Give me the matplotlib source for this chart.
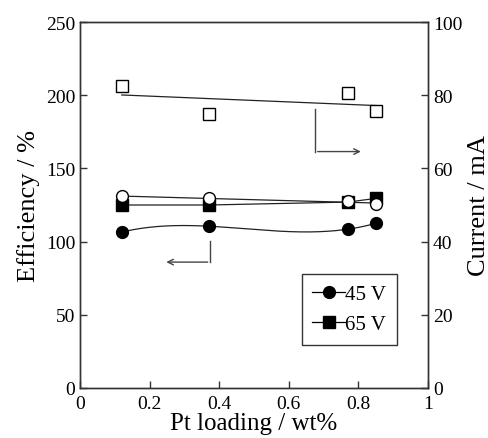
import numpy as np
import matplotlib
matplotlib.use('Agg')
import matplotlib.pyplot as plt

plt.rcParams['font.family'] = ['Liberation Serif', 'DejaVu Serif']
plt.rcParams['mathtext.fontset'] = 'stix'

# Data
pt_loading = [0.12, 0.37, 0.77, 0.85]
eff_45 = [106.5, 110.5, 108.5, 112.5]       # filled circles, left axis
eff_65 = [125.0, 125.0, 127.0, 129.5]       # filled squares, left axis
cur_45 = [52.4, 51.8, 51.0, 50.3]           # open circles, right axis
cur_65 = [82.4, 75.0, 80.6, 75.8]           # open squares, right axis

fig = plt.figure(figsize=(4.89, 4.39), dpi=100)
ax = fig.add_axes([80 / 489, 50 / 439, 348 / 489, 366 / 439])
ax2 = ax.twinx()

ms = 8.5
lc = '#222222'

# efficiency (left)
xs = np.linspace(min(pt_loading), max(pt_loading), 200)
c45 = np.polyfit(pt_loading, eff_45, 3)
ax.plot(xs, np.polyval(c45, xs), color=lc, lw=0.9)
ax.plot(pt_loading, eff_45, 'o', color='black', ms=ms)
ax.plot(pt_loading, eff_65, '-', color=lc, lw=0.9)
ax.plot(pt_loading, eff_65, 's', color='black', ms=ms)

# current (right)
f45 = np.polyfit(pt_loading, cur_45, 1)
f65 = np.polyfit(pt_loading, cur_65, 1)
ends = np.array([pt_loading[0], pt_loading[-1]])
ax2.plot(ends, np.polyval(f45, ends), color=lc, lw=0.9)
ax2.plot(ends, np.polyval(f65, ends), color=lc, lw=0.9)
ax2.plot(pt_loading, cur_45, 'o', mfc='white', mec='black', mew=1.0, ms=ms)
ax2.plot(pt_loading, cur_65, 's', mfc='white', mec='black', mew=1.0, ms=ms)

# arrows indicating axes
ax.plot([0.375, 0.375], [100.5, 86], color='#444444', lw=1.0)
ax.annotate('', xy=(0.24, 86), xytext=(0.375, 86),
            arrowprops=dict(arrowstyle='->', color='#444444', lw=1.0))
ax.plot([0.675, 0.675], [190.5, 161.5], color='#444444', lw=1.0)
ax.annotate('', xy=(0.815, 161.5), xytext=(0.675, 161.5),
            arrowprops=dict(arrowstyle='->', color='#444444', lw=1.0))

ax.set_xlim(0, 1)
ax.set_ylim(0, 250)
ax2.set_ylim(0, 100)
ax.set_xticks([0, 0.2, 0.4, 0.6, 0.8, 1])
ax.set_xticklabels(['0', '0.2', '0.4', '0.6', '0.8', '1'])
ax.set_yticks([0, 50, 100, 150, 200, 250])
ax2.set_yticks([0, 20, 40, 60, 80, 100])

for a in (ax, ax2):
    a.tick_params(direction='in', length=5, width=1, labelsize=14, color='#333333')
    for s in a.spines.values():
        s.set_color('#333333')
        s.set_linewidth(1.0)
ax.tick_params(axis='x', pad=5)

ax.set_xlabel('Pt loading / wt%', fontsize=18, labelpad=0)
ax.set_ylabel('Efficiency / %', fontsize=19, labelpad=4)
ax2.set_ylabel('Current / mA', fontsize=19, labelpad=4)

h1, = ax.plot([], [], '-o', color='black', ms=ms, lw=0.9)
h2, = ax.plot([], [], '-s', color='black', ms=ms, lw=0.9)
leg = ax.legend([h1, h2], ['45 V', '65 V'], loc='lower right',
                bbox_to_anchor=(0.94, 0.09), fontsize=15, frameon=True,
                fancybox=False, edgecolor='black', handlelength=1.6,
                handletextpad=0.0, borderpad=0.5, labelspacing=0.5)
leg.get_frame().set_linewidth(1.0)

fig.savefig('out.png', dpi=100)
